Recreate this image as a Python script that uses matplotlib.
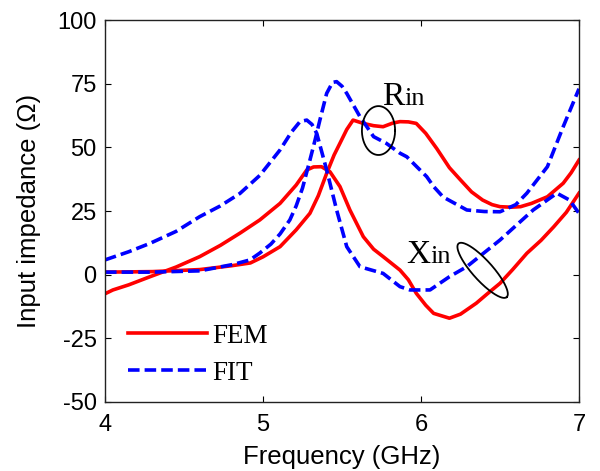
import numpy as np
import matplotlib.pyplot as plt

plt.rcParams['axes.unicode_minus'] = False

# FEM (red, solid) - real part R_in
fem_r_f = [4.0, 4.3, 4.6, 4.8, 4.92, 5.0, 5.108, 5.21, 5.297, 5.35, 5.403, 5.45, 5.487, 5.53,
           5.57, 5.635, 5.70, 5.76, 5.82, 5.867, 5.92, 5.97, 6.03, 6.10, 6.18, 6.25, 6.32,
           6.39, 6.45, 6.5, 6.57, 6.63, 6.70, 6.80, 6.90, 6.95, 7.0]
fem_r = [1.0, 1.2, 2.0, 3.5, 4.6, 7.0, 11.0, 17.6, 24.1, 31.0, 39.8, 47.0, 51.6, 57.0,
         60.7, 59.4, 58.5, 58.1, 59.5, 60.1, 60.0, 59.4, 55.5, 49.5, 42.0, 37.2, 32.5,
         29.3, 27.5, 26.7, 26.5, 26.7, 28.0, 30.6, 35.9, 40.0, 45.0]

# FEM - imaginary part X_in
fem_x_f = [4.0, 4.05, 4.15, 4.285, 4.45, 4.60, 4.73, 4.854, 4.98, 5.108, 5.21, 5.277, 5.32,
           5.37, 5.424, 5.487, 5.55, 5.635, 5.70, 5.76, 5.867, 5.92, 5.97, 6.03, 6.08, 6.18,
           6.25, 6.35, 6.42, 6.5, 6.58, 6.67, 6.76, 6.84, 6.92, 7.0]
fem_x = [-7.5, -6.0, -4.0, -0.8, 3.0, 7.1, 11.5, 16.3, 21.5, 28.0, 35.2, 41.1, 42.3,
         42.4, 40.4, 34.6, 25.4, 14.9, 10.0, 7.1, 1.8, -2.0, -7.3, -12.0, -15.2, -17.1,
         -15.5, -11.2, -7.5, -3.4, 2.0, 8.4, 13.5, 18.8, 24.5, 32.0]

# FIT (blue, dashed) - R_in
fit_r_f = [4.0, 4.3, 4.6, 4.81, 4.918, 4.98, 5.05, 5.108, 5.17, 5.21, 5.25, 5.297, 5.33,
           5.36, 5.403, 5.44, 5.466, 5.50, 5.53, 5.614, 5.70, 5.78, 5.867, 5.91, 6.036,
           6.08, 6.14, 6.29, 6.4, 6.5, 6.6, 6.67, 6.80, 6.90, 7.0]
fit_r = [1.0, 1.0, 1.5, 4.0, 5.8, 8.5, 12.0, 16.0, 21.5, 27.0, 34.0, 45.0, 53.0,
         60.7, 71.2, 75.5, 75.8, 74.0, 71.2, 62.0, 54.2, 51.6, 47.7, 46.3, 38.5,
         34.6, 30.5, 25.4, 24.8, 24.7, 27.5, 32.0, 42.4, 58.1, 73.0]

# FIT - X_in
fit_x_f = [4.0, 4.15, 4.285, 4.45, 4.60, 4.73, 4.854, 4.98, 5.108, 5.18, 5.234, 5.277, 5.31,
           5.34, 5.403, 5.466, 5.53, 5.614, 5.76, 5.867, 5.93, 6.057, 6.18, 6.289, 6.5,
           6.71, 6.86, 6.94, 7.0]
fit_x = [5.8, 9.0, 12.3, 17.0, 22.8, 27.0, 31.9, 39.0, 49.0, 56.0, 60.1, 60.7, 59.0,
         55.5, 41.1, 25.4, 11.0, 3.1, 0.5, -4.7, -6.0, -6.0, -0.8, 3.1, 13.6,
         25.4, 32.0, 29.3, 24.1]

fig = plt.figure(figsize=(6, 4.71), dpi=100)
ax = fig.add_axes([0.175, 0.1465, 0.79, 0.811])

red = '#ff0000'
blue = '#0000ff'
lw = 2.6
ax.plot(fem_r_f, fem_r, color=red, lw=lw, label='FEM')
ax.plot(fem_x_f, fem_x, color=red, lw=lw)
ax.plot(fit_r_f, fit_r, color=blue, lw=lw, ls=(0, (3.2, 1.4)), label='FIT')
ax.plot(fit_x_f, fit_x, color=blue, lw=lw, ls=(0, (3.2, 1.4)))

ax.set_xlim(4, 7)
ax.set_ylim(-50, 100)
ax.set_xticks([4, 5, 6, 7])
ax.set_yticks([-50, -25, 0, 25, 50, 75, 100])
ax.tick_params(direction='in', length=4, width=0.8, top=True, right=True, labelsize=17)
ax.tick_params(axis='x', pad=9)
ax.tick_params(axis='y', pad=6)
for sp in ax.spines.values():
    sp.set_linewidth(1.0)
    sp.set_color('#222222')

sans = 'Liberation Sans'
serif = 'Liberation Serif'
for lab in ax.get_xticklabels() + ax.get_yticklabels():
    lab.set_fontfamily(sans)
ax.set_xlabel('Frequency (GHz)', fontsize=18.5, family=sans, labelpad=6)
ax.set_ylabel('Input impedance (\u03a9)', fontsize=18.5, family=sans, labelpad=12)

# annotations: R_in ellipse (upright)
t = np.linspace(0, 2 * np.pi, 200)
ax.plot(5.731 + 0.105 * np.cos(t), 56.6 + 9.6 * np.sin(t), color='black', lw=1.3)
ax.text(5.753, 66.6, 'R', family=serif, fontsize=24, ha='left', va='baseline')
ax.text(5.895, 66.6, 'in', family=serif, fontsize=19, ha='left', va='baseline')

# X_in ellipse (tilted, built in pixel units then scaled to data)
th = np.deg2rad(-48)
a, b = 36.0, 10.0
px = a * np.cos(t) * np.cos(th) - b * np.sin(t) * np.sin(th)
py = a * np.cos(t) * np.sin(th) + b * np.sin(t) * np.cos(th)
ax.plot(6.39 + px / 158.0, 1.7 + py / 2.547, color='black', lw=1.3)
ax.text(5.905, 4.6, 'X', family=serif, fontsize=24, ha='left', va='baseline')
ax.text(6.057, 4.6, 'in', family=serif, fontsize=19, ha='left', va='baseline')

leg = ax.legend(loc='lower left', bbox_to_anchor=(0.015, 0.0), frameon=False,
                prop={'family': serif, 'size': 19.5}, handlelength=2.9,
                handletextpad=0.2, labelspacing=0.45, borderaxespad=0.2)

fig.savefig('out.png', dpi=100)
